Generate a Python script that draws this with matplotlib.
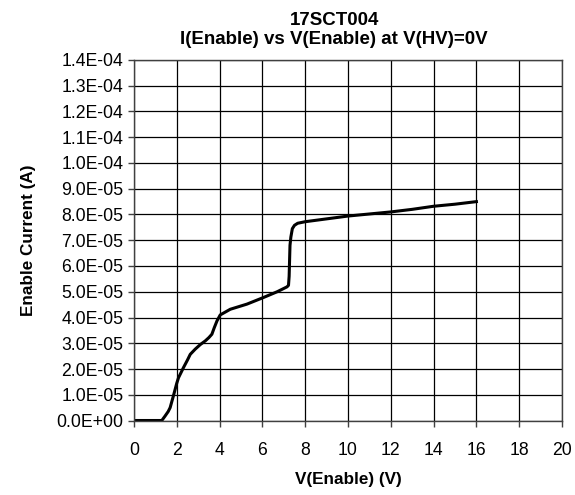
import matplotlib
matplotlib.use("Agg")
import matplotlib.pyplot as plt
from matplotlib.ticker import FuncFormatter, MultipleLocator

plt.rcParams['font.family'] = ['Liberation Sans', 'DejaVu Sans']

# Enable voltage (V) and enable current (A)
v_enable = [0.0, 1.3, 1.45, 1.6, 1.69, 1.84, 2.0, 2.08, 2.31, 2.5, 2.63, 2.86,
            3.1, 3.33, 3.5, 3.64, 3.75, 3.88, 4.03, 4.5, 5.28, 6.06, 6.69,
            7.15, 7.22, 7.25, 7.27, 7.29, 7.33, 7.4, 7.5, 7.65, 8.0, 9.0,
            10.0, 11.0, 12.0, 13.0, 14.0, 15.0, 16.0]
i_enable = [0.0, 0.0, 0.17e-5, 0.35e-5, 0.5e-5, 0.95e-5, 1.45e-5, 1.66e-5,
            2.05e-5, 2.35e-5, 2.57e-5, 2.77e-5, 2.95e-5, 3.09e-5, 3.22e-5,
            3.35e-5, 3.6e-5, 3.87e-5, 4.10e-5, 4.32e-5, 4.52e-5, 4.78e-5,
            5.0e-5, 5.19e-5, 5.25e-5, 5.6e-5, 6.2e-5, 6.8e-5, 7.12e-5,
            7.45e-5, 7.58e-5, 7.66e-5, 7.72e-5, 7.83e-5, 7.94e-5, 8.02e-5,
            8.10e-5, 8.2e-5, 8.32e-5, 8.4e-5, 8.5e-5]

fig = plt.figure(figsize=(5.75, 4.95), dpi=100)
ax = fig.add_axes([0.233, 0.1505, 0.7444, 0.7283])

ax.plot(v_enable, i_enable, color='black', lw=2.2, solid_joinstyle='round')

ax.set_xlim(0, 20)
ax.set_ylim(0, 1.4e-4)
ax.xaxis.set_major_locator(MultipleLocator(2))
ax.yaxis.set_major_locator(MultipleLocator(1e-5))
ax.yaxis.set_major_formatter(FuncFormatter(lambda v, p: f"{v:.1E}"))

ax.grid(True, color='black', lw=0.9)
ax.set_axisbelow(True)
for s in ax.spines.values():
    s.set_color('#404040')
    s.set_linewidth(1.0)

ax.tick_params(axis='both', direction='out', length=4.5, width=1,
               color='#404040', labelsize=12.7)
ax.tick_params(axis='x', pad=11)
ax.tick_params(axis='y', pad=3)

ax.set_xlabel("V(Enable) (V)", fontsize=12.3, fontweight='bold', labelpad=9)
ax.set_ylabel("Enable Current (A)", fontsize=12.3, fontweight='bold', labelpad=15)

fig.suptitle("17SCT004\nI(Enable) vs V(Enable) at V(HV)=0V", x=0.581,
             y=1 - 30 / 495, va='center', fontsize=13.5, fontweight='bold',
             linespacing=1.1)

fig.savefig("out.png", dpi=100)
